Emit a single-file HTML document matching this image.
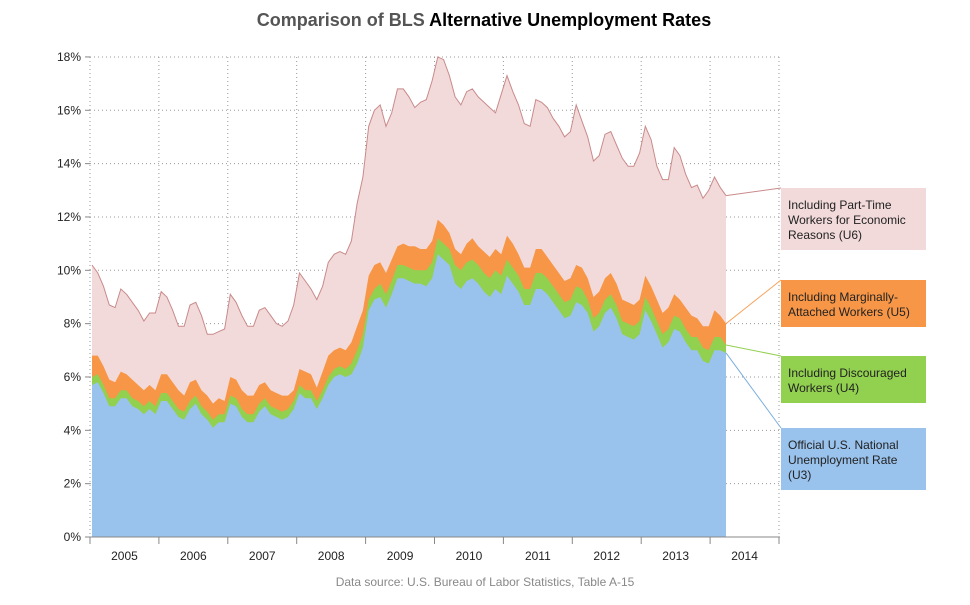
<!DOCTYPE html>
<html><head><meta charset="utf-8"><style>
body{margin:0;background:#fff;}
svg text{font-family:"Liberation Sans",sans-serif;}
</style></head><body>
<svg id="chart" width="970" height="600" xmlns="http://www.w3.org/2000/svg">
<text x="484" y="26" text-anchor="middle" font-size="18" font-weight="bold"><tspan fill="#555">Comparison of BLS </tspan><tspan fill="#000">Alternative Unemployment Rates</tspan></text>
<g id="grid"></g><g id="areas"></g><g id="axes"></g><g id="legend"></g>
<text x="485" y="586" text-anchor="middle" font-size="12" fill="#888">Data source: U.S. Bureau of Labor Statistics, Table A-15</text>
</svg>
<script>
const years = ["2005","2006","2007","2008","2009","2010","2011","2012","2013","2014"];
const yTicks = [0,2,4,6,8,10,12,14,16,18];
const u3 = [5.7,5.8,5.4,4.9,4.9,5.2,5.2,4.9,4.8,4.6,4.8,4.6,
5.1,5.1,4.8,4.5,4.4,4.8,5.0,4.6,4.4,4.1,4.3,4.3,
5.0,4.9,4.5,4.3,4.3,4.7,4.9,4.6,4.5,4.4,4.5,4.8,
5.4,5.2,5.2,4.8,5.2,5.7,6.0,6.1,6.0,6.1,6.5,7.1,
8.5,8.9,9.0,8.6,9.1,9.7,9.7,9.6,9.5,9.5,9.4,9.7,
10.6,10.4,10.2,9.5,9.3,9.6,9.7,9.5,9.2,9.0,9.3,9.1,
9.8,9.5,9.2,8.7,8.7,9.3,9.3,9.1,8.8,8.5,8.2,8.3,
8.8,8.7,8.4,7.7,7.9,8.4,8.6,8.2,7.6,7.5,7.4,7.6,
8.5,8.1,7.6,7.1,7.3,7.8,7.7,7.3,7.0,7.0,6.6,6.5,
7.0,7.0,6.9];
const u4 = [6.0,6.1,5.7,5.2,5.2,5.5,5.5,5.2,5.1,4.9,5.1,4.9,
5.4,5.4,5.1,4.8,4.7,5.1,5.3,4.9,4.7,4.4,4.6,4.6,
5.3,5.2,4.8,4.6,4.6,5.0,5.2,4.9,4.8,4.7,4.8,5.1,
5.7,5.5,5.5,5.1,5.5,6.0,6.3,6.4,6.3,6.5,7.0,7.6,
8.9,9.3,9.5,9.1,9.6,10.2,10.2,10.1,10.0,10.0,10.0,10.3,
11.2,11.0,10.8,10.2,10.0,10.3,10.4,10.2,9.9,9.7,10.0,9.8,
10.4,10.1,9.8,9.3,9.3,9.9,9.9,9.7,9.4,9.1,8.8,8.9,
9.4,9.3,8.9,8.2,8.4,8.9,9.1,8.7,8.1,8.0,7.9,8.1,
9.0,8.6,8.1,7.6,7.8,8.3,8.2,7.8,7.5,7.5,7.1,7.0,
7.5,7.5,7.2];
const u5 = [6.8,6.8,6.4,5.9,5.8,6.2,6.1,5.9,5.7,5.5,5.7,5.5,
6.1,6.1,5.8,5.5,5.3,5.8,5.9,5.5,5.3,5.0,5.2,5.1,
6.0,5.9,5.5,5.3,5.3,5.7,5.8,5.5,5.4,5.3,5.3,5.5,
6.3,6.2,6.1,5.6,6.2,6.8,7.0,7.1,7.0,7.3,7.9,8.5,
9.8,10.2,10.3,9.9,10.4,10.9,11.0,10.9,10.9,10.8,10.8,11.1,
11.9,11.7,11.4,10.8,10.6,11.0,11.2,10.9,10.7,10.5,10.8,10.6,
11.3,11.0,10.6,10.1,10.1,10.8,10.8,10.5,10.2,9.9,9.6,9.7,
10.2,10.1,9.7,9.0,9.2,9.7,9.9,9.5,8.9,8.8,8.7,8.9,
9.8,9.4,8.9,8.4,8.6,9.1,8.9,8.6,8.3,8.2,7.9,7.9,
8.5,8.3,8.0];
const u6 = [10.2,9.9,9.4,8.7,8.6,9.3,9.1,8.8,8.5,8.1,8.4,8.4,
9.2,9.0,8.5,7.9,7.9,8.7,8.8,8.3,7.6,7.6,7.7,7.8,
9.1,8.8,8.3,7.9,7.9,8.5,8.6,8.3,8.0,7.9,8.1,8.7,
9.9,9.6,9.3,8.9,9.4,10.3,10.6,10.7,10.6,11.1,12.5,13.5,
15.4,16.0,16.2,15.4,15.9,16.8,16.8,16.5,16.1,16.3,16.4,17.1,
18.0,17.9,17.3,16.5,16.2,16.7,16.8,16.5,16.3,16.1,15.9,16.6,
17.3,16.7,16.2,15.5,15.4,16.4,16.3,16.1,15.7,15.4,15.0,15.2,
16.2,15.6,15.0,14.1,14.3,15.1,15.2,14.7,14.2,13.9,13.9,14.4,
15.4,14.9,13.9,13.4,13.4,14.6,14.3,13.6,13.1,13.2,12.7,13.0,
13.5,13.1,12.8];
const seriesNames = ["u6","u5","u4","u3"];
const seriesData = [u6,u5,u4,u3];
const fills = ["#f2dada","#f79646","#92d050","#99c2ec"];
const strokes = ["#c98a8a","none","none","none"];
const lineColors = ["#c98a8a","#f7a35c","#92d050","#7aaedc"];
const legendLabels = [["Including Part-Time","Workers for Economic","Reasons (U6)"],["Including Marginally-","Attached Workers (U5)"],["Including Discouraged","Workers (U4)"],["Official U.S. National","Unemployment Rate","(U3)"]];
const legendTops = [188,280,356,428];
const legendHeights = [62,47,47,62];

const NS="http://www.w3.org/2000/svg";
const X0=90, YW=68.9, Y0=537, PX=26.67, XR=780;
const xm = i => X0 + 2 + i*5.764;
const yv = v => Y0 - v*PX;
function mk(tag, attrs, parent){const e=document.createElementNS(NS,tag);for(const k in attrs)e.setAttribute(k,attrs[k]);parent.appendChild(e);return e;}
const grid=document.getElementById('grid'), areas=document.getElementById('areas'), axes=document.getElementById('axes'), legend=document.getElementById('legend');

yTicks.forEach(t=>{
  if(t>0){const l=mk('line',{x1:X0,x2:XR,y1:yv(t),y2:yv(t),stroke:'#999','stroke-dasharray':'1,3'},grid);
  
  }
  const tx=mk('text',{x:X0-9,y:yv(t)+4,'text-anchor':'end','font-size':12,fill:'#222'},axes);
  tx.textContent=t+'%';
  
  
  mk('line',{x1:X0-5,x2:X0,y1:yv(t),y2:yv(t),stroke:'#888'},axes);
});
for(let k=0;k<=years.length;k++){
  const x=X0+k*YW;
  const l=mk('line',{x1:x,x2:x,y1:yv(18),y2:Y0,stroke:'#999','stroke-dasharray':'1,3'},grid);
  
  
  mk('line',{x1:x,x2:x,y1:Y0,y2:Y0+7,stroke:'#888'},axes);
}
years.forEach((y,k)=>{
  const tx=mk('text',{x:X0+(k+0.5)*YW,y:560,'text-anchor':'middle','font-size':12,fill:'#222'},axes);
  tx.textContent=y;
  
  
});
mk('line',{x1:X0,x2:XR,y1:Y0,y2:Y0,stroke:'#888'},axes);

seriesData.forEach((d,s)=>{
  let p='M'+xm(0)+','+Y0;
  d.forEach((v,i)=>{p+=' L'+xm(i).toFixed(1)+','+yv(v).toFixed(1);});
  p+=' L'+xm(d.length-1).toFixed(1)+','+Y0+' Z';
  const a=mk('path',{d:p,fill:fills[s],stroke:'none'},areas);
  
  
  if(s===0){
    let lp='';d.forEach((v,i)=>{lp+=(i?' L':'M')+xm(i).toFixed(1)+','+yv(v).toFixed(1);});
    const ln=mk('path',{d:lp,fill:'none',stroke:strokes[0],'stroke-width':1},areas);
    
    
  }
  const last=d.length-1;
  const c=mk('line',{x1:xm(last),y1:yv(d[last]),x2:781,y2:legendTops[s],stroke:lineColors[s],'stroke-width':1},legend);
  
  
  const r=mk('rect',{x:781,y:legendTops[s],width:145,height:legendHeights[s],fill:fills[s]},legend);
  
  
  legendLabels[s].forEach((line,j)=>{
    const t=mk('text',{x:788,y:legendTops[s]+21+j*15,'font-size':12,fill:'#222'},legend);
    t.textContent=line;
    
    
  });
});
</script>
</body></html>
